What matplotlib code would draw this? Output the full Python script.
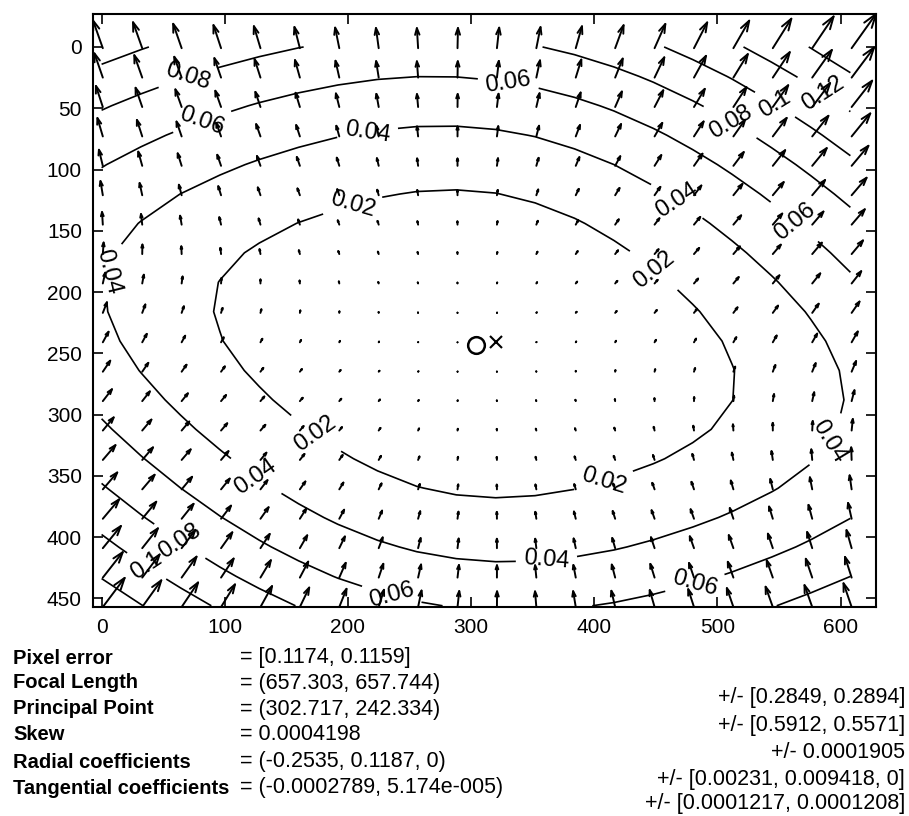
import numpy as np
import matplotlib.pyplot as plt
from matplotlib.collections import LineCollection

plt.rcParams['font.family'] = ['Liberation Sans', 'DejaVu Sans']

# Calibration results (image size, intrinsics, distortion) and their uncertainties
nx, ny = 640, 480
fc = [657.303, 657.744]
cc = [302.717, 242.334]
alpha_c = 0.0004198
kc = [-0.2535, 0.1187, -0.0002789, 5.174e-05, 0]
pixel_err = [0.1174, 0.1159]
fc_error = [0.2849, 0.2894]
cc_error = [0.5912, 0.5571]
alpha_c_error = 0.0001905
kc_radial_error = [0.00231, 0.009418, 0]
kc_tang_error = [0.0001217, 0.0001208]

contour_levels = [0.02, 0.04, 0.06, 0.08, 0.10, 0.12, 0.14]
# where the contour labels sit (image coordinates)
label_spots = [(70, 25), (82, 62), (216, 70), (204, 130), (331, 25), (5, 183),
               (510, 62), (545, 50), (585, 40), (469, 123), (563, 142),
               (447, 184), (591, 322), (408, 355), (362, 426), (484, 445),
               (235, 449), (171, 320), (122, 355), (63, 404), (33, 429)]


def g(v):
    return ('%g' % v).replace('e-0', 'e-00')


def vec(vals, br='()'):
    return br[0] + ', '.join(g(v) for v in vals) + br[1]


# sample grid over the image
mx, my = np.meshgrid(np.arange(0, nx - 1, nx / 20), np.arange(0, ny - 1, ny / 20))
KK = np.array([[fc[0], fc[0] * alpha_c, cc[0]],
               [0, fc[1], cc[1]],
               [0, 0, 1]])
rays = np.linalg.solve(KK, np.vstack([mx.ravel(), my.ravel(), np.ones(mx.size)]))
x = rays[0] / rays[2]
y = rays[1] / rays[2]
r2 = x ** 2 + y ** 2

# tangential component only
dxt = 2 * kc[2] * x * y + kc[3] * (r2 + 2 * x ** 2)
dyt = kc[2] * (r2 + 2 * y ** 2) + 2 * kc[3] * x * y
xd = x + dxt
yd = y + dyt
px2 = fc[0] * (xd + alpha_c * yd) + cc[0]
py2 = fc[1] * yd + cc[1]
dx = px2.reshape(mx.shape) - mx
dy = py2.reshape(my.shape) - my
dr = np.sqrt(dx ** 2 + dy ** 2)

# matlab-like quiver: autoscale to grid spacing, open arrow heads
n = np.sqrt(mx.size)
delx = (mx.max() - mx.min()) / n
dely = (my.max() - my.min()) / n
scale = 0.9 / np.max(dr / np.sqrt(delx ** 2 + dely ** 2))
u = (dx * scale).ravel()
v = (dy * scale).ravel()
x0 = (mx + 1).ravel()
y0 = (my + 1).ravel()
tx, ty = x0 + u, y0 + v
a, b = 0.33, 0.33
segs = []
for i in range(len(x0)):
    segs.append([(x0[i], y0[i]), (tx[i], ty[i])])
    segs.append([(tx[i] - a * (u[i] + b * v[i]), ty[i] - a * (v[i] - b * u[i])),
                 (tx[i], ty[i]),
                 (tx[i] - a * (u[i] - b * v[i]), ty[i] - a * (v[i] + b * u[i]))])
allpts = np.vstack([np.array(s) for s in segs])

fig = plt.figure(figsize=(9.09, 8.16), dpi=100)
ax = fig.add_axes([93 / 909, 1 - 607 / 816, 783 / 909, 593 / 816])

ax.add_collection(LineCollection(segs, colors='k', linewidths=1.4, capstyle='round'))
ax.plot(cc[0] + 1, cc[1] + 1, 'o', mfc='none', mec='k', ms=12, mew=1.8)
ax.plot((nx - 1) / 2 + 1, (ny - 1) / 2 + 1, 'x', color='k', ms=8, mew=1.5)

cs = ax.contour(mx, my, dr, levels=contour_levels, colors='k', linewidths=1.2)
ax.clabel(cs, fmt='%g', fontsize=17, inline=True, manual=label_spots)

ax.set_xlim(allpts[:, 0].min(), allpts[:, 0].max())
ax.set_ylim(allpts[:, 1].max(), allpts[:, 1].min())
ax.set_xticks(np.arange(0, 601, 100))
ax.set_yticks(np.arange(0, 451, 50))
ax.tick_params(direction='in', top=True, right=True, length=7, width=1.2,
               labelsize=15, pad=8)
for s in ax.spines.values():
    s.set_linewidth(1.5)

# calibration summary below the plot
names = ['Pixel error', 'Focal Length', 'Principal Point', 'Skew',
         'Radial coefficients', 'Tangential coefficients']
values = ['= ' + vec(pixel_err, '[]'), '= ' + vec(fc), '= ' + vec(cc),
          '= ' + g(alpha_c), '= ' + vec([kc[0], kc[1], kc[4]]),
          '= ' + vec(kc[2:4])]
errors = ['+/- ' + vec(fc_error, '[]'), '+/- ' + vec(cc_error, '[]'),
          '+/- ' + g(alpha_c_error), '+/- ' + vec(kc_radial_error, '[]'),
          '+/- ' + vec(kc_tang_error, '[]')]
rows_left = [658, 683, 709, 735, 762, 788]
rows_right = [698, 725, 752, 779, 804]
for nm, val, yy in zip(names, values, rows_left):
    fig.text(13 / 909, 1 - yy / 816, nm, fontsize=14.5, fontweight='bold', va='center')
    fig.text(240 / 909, 1 - yy / 816, val, fontsize=15.5, va='center')
for err, yy in zip(errors, rows_right):
    fig.text(905 / 909, 1 - yy / 816, err, fontsize=15.5, va='center', ha='right')

fig.savefig('out.png', dpi=100)
